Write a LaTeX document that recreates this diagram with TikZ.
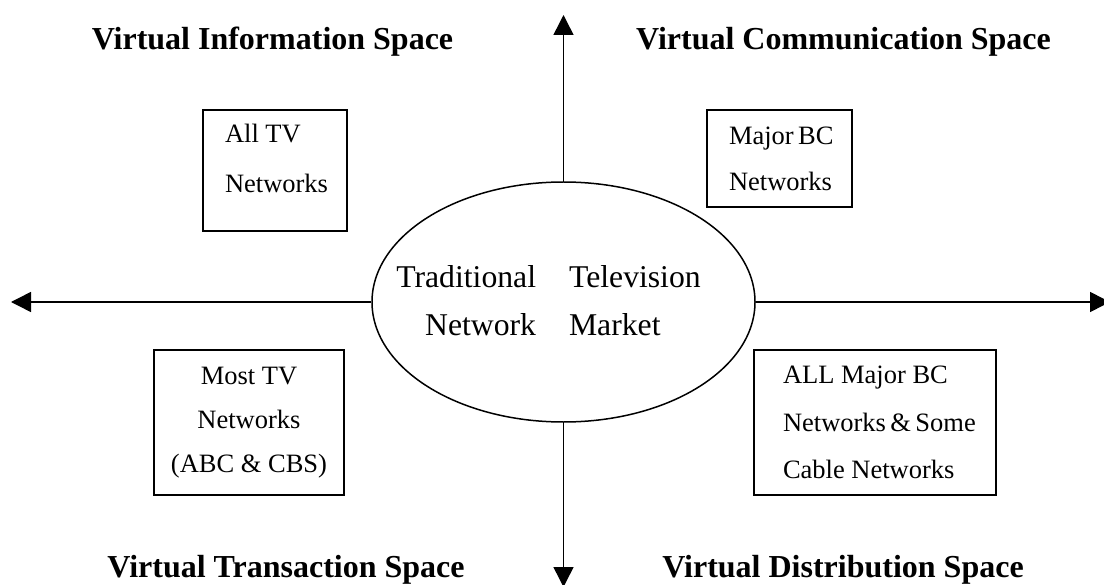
\documentclass[tikz,border=0pt]{standalone}
\usepackage{fontspec}
\setmainfont{Liberation Serif}
\usetikzlibrary{arrows.meta,shapes.geometric}

\newcommand{\cellfont}[1]{\fontsize{26.5bp}{#1}\selectfont}

\begin{document}
\begin{tikzpicture}[x=1bp, y=-1bp, line width=1.5bp,
    >={Triangle[length=20bp,width=20bp]},
    space/.style={font=\fontsize{32bp}{38bp}\selectfont\bfseries, anchor=base, inner sep=0pt},
    cell/.style={draw, inner sep=0pt},
    market/.style={draw, ellipse, minimum width=383bp, minimum height=240bp, inner sep=0pt}]
    \useasboundingbox (0,0) rectangle (1104,585);

    % Market in the middle
    \node[market] (mkt) at (563.5,302) {};
    \node[font=\fontsize{31.7bp}{48bp}\selectfont, inner sep=0pt] (mkttext) at (mkt.center)
        {\begin{tabular}{@{}r@{\hspace{33bp}}l@{\hspace{30bp}}}
         Traditional & Television\\
         Network & Market
         \end{tabular}};

    % Axes
    \coordinate (tipN) at (563.5,15);
    \coordinate (tipS) at (563.5,587);
    \coordinate (tipW) at (11,302);
    \coordinate (tipE) at (1110,302);
    \draw[->] (mkt.north) -- (tipN);
    \draw[->] (mkt.south) -- (tipS);
    \draw[->] (mkt.west) -- (tipW);
    \draw[->] (mkt.east) -- (tipE);

    % Spaces
    \node[space] (info) at (272.5,50) {Virtual Information Space};
    \node[space] (comm) at (843.5,50) {Virtual Communication Space};
    \node[space] (trans) at (286,577) {Virtual Transaction Space};
    \node[space] (dist) at (843,577) {Virtual Distribution Space};

    % Networks in each space
    \node[cell, font=\cellfont{50bp}, minimum width=144bp, minimum height=121bp,
          text width=100bp, align=flush left] (alltv) at (275,170.5)
        {All TV\\Networks\rule[-24bp]{0pt}{24bp}};
    \node[cell, font=\cellfont{46bp}, minimum width=145bp, minimum height=97bp,
          text width=101bp, align=flush left] (majorbc) at (779.5,158.5)
        {Major~BC\\Networks};
    \node[cell, font=\cellfont{44bp}, minimum width=190bp, minimum height=145bp,
          align=center] (mosttv) at (249,422.5)
        {Most TV\\Networks\\(ABC \& CBS)};
    \node[cell, font=\cellfont{47.5bp}, minimum width=242bp, minimum height=145bp,
          text width=184bp, align=flush left] (allbc) at (875,422.5)
        {ALL Major BC\\Networks~\&~Some\\Cable Networks};
\end{tikzpicture}
\end{document}
